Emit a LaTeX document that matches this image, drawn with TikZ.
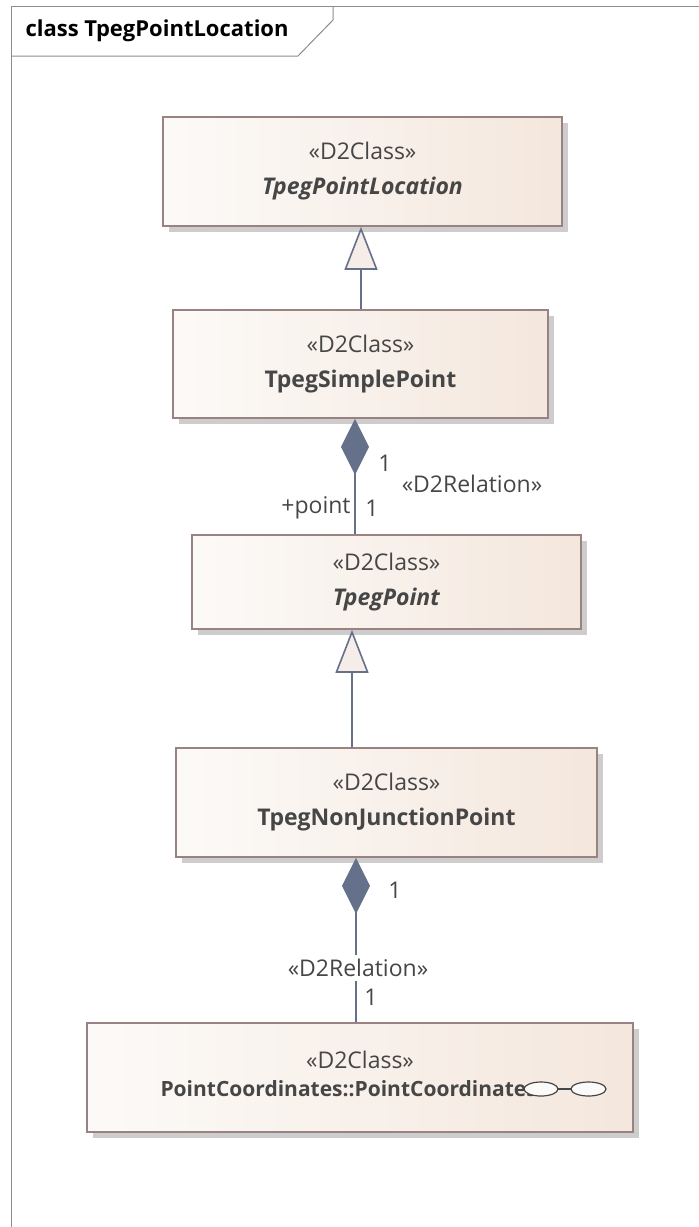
\documentclass[tikz,border=0pt]{standalone}
\usepackage{fontspec}
\setmainfont{Open Sans}
\usetikzlibrary{arrows.meta,shadows}

\definecolor{boxL}{HTML}{FCFAF8}
\definecolor{boxR}{HTML}{F4E7DD}
\definecolor{boxEdge}{HTML}{9A8282}
\definecolor{shadowGray}{HTML}{CDCDCD}
\definecolor{relLine}{HTML}{65708B}
\definecolor{triFill}{HTML}{F6EDE8}
\definecolor{txtGray}{HTML}{464646}
\definecolor{frameGray}{HTML}{8C8C8C}

\tikzset{
  umlclass/.style={draw=boxEdge, line width=1.6pt, left color=boxL, right color=boxR,
    drop shadow={shadow xshift=6pt, shadow yshift=-6pt, fill=shadowGray, opacity=1},
    align=center, text=txtGray, inner sep=0pt,
    font=\fontsize{23}{35}\selectfont},
  relation/.style={draw=relLine, line width=1.6pt},
  generalize/.style={relation, -{Triangle[length=43pt, width=33pt, fill=triFill, line width=1.6pt]}},
  compose/.style={relation, -{Diamond[length=56pt, width=28pt, fill=relLine]}},
  rolelabel/.style={text=txtGray, font=\fontsize{23}{26}\selectfont, inner sep=1pt}
}

\begin{document}
\begin{tikzpicture}[x=1pt, y=-1pt]
    \useasboundingbox (0,0) rectangle (699,1227);

    % frame
    \draw[frameGray, line width=1pt] (11,1227) -- (11,6) -- (699,6);
    \draw[frameGray, line width=1pt] (11,56) -- (298,56) -- (333,20) -- (333,6);
    \node[anchor=west, text=black, font=\fontsize{22}{26}\selectfont\bfseries] (title) at (22,31) {class TpegPointLocation};

    % classes
    \node[umlclass, minimum width=399pt, minimum height=109pt] (location) at (362.5,171.5)
        {«D2Class»\\\textbf{\textit{TpegPointLocation}}};
    \node[umlclass, minimum width=375pt, minimum height=108pt] (simple) at (360.5,364)
        {«D2Class»\\\textbf{TpegSimplePoint}};
    \node[umlclass, minimum width=389pt, minimum height=94pt] (point) at (386.5,582)
        {«D2Class»\\\textbf{\textit{TpegPoint}}};
    \node[umlclass, minimum width=421pt, minimum height=109pt] (nonjunction) at (386.5,802.5)
        {«D2Class»\\\textbf{TpegNonJunctionPoint}};
    \node[umlclass, minimum width=546pt, minimum height=109pt] (coords) at (360,1077.5)
        {«D2Class»\\\phantom{X}};
    \node[anchor=west, text=txtGray, font=\fontsize{21}{26}\selectfont\bfseries] (coordsname) at (157,1089)
        {PointCoordinates::PointCoordinates};

    % interface icon
    \draw[txtGray, line width=1.2pt] (558,1089) -- (571,1089);
    \draw[txtGray, line width=1.2pt, fill=boxL] (541,1089) ellipse (17pt and 7pt);
    \draw[txtGray, line width=1.2pt, fill=boxL] (588.5,1089) ellipse (17.5pt and 7pt);

    % relations
    \coordinate (genA) at (361,0);
    \draw[generalize] (genA |- simple.north) -- (genA |- location.south);

    \coordinate (relA) at (355,0);
    \draw[compose] (relA |- point.north) -- (relA |- simple.south);
    \node[rolelabel] (multA) at (385,463) {1};
    \node[rolelabel] (stereoA) at (472,484) {«D2Relation»};
    \node[rolelabel] (roleA) at (316,508) {+point};
    \node[rolelabel] (multB) at (372,508) {1};

    \coordinate (genB) at (352,0);
    \draw[generalize] (genB |- nonjunction.north) -- (genB |- point.south);

    \coordinate (relB) at (356,0);
    \draw[compose] (relB |- coords.north) -- (relB |- nonjunction.south);
    \node[rolelabel] (multC) at (395,890) {1};
    \node[rolelabel, fill=white, inner sep=4pt] (stereoB) at (358,968) {«D2Relation»};
    \node[rolelabel] (multD) at (371,997) {1};
\end{tikzpicture}
\end{document}
